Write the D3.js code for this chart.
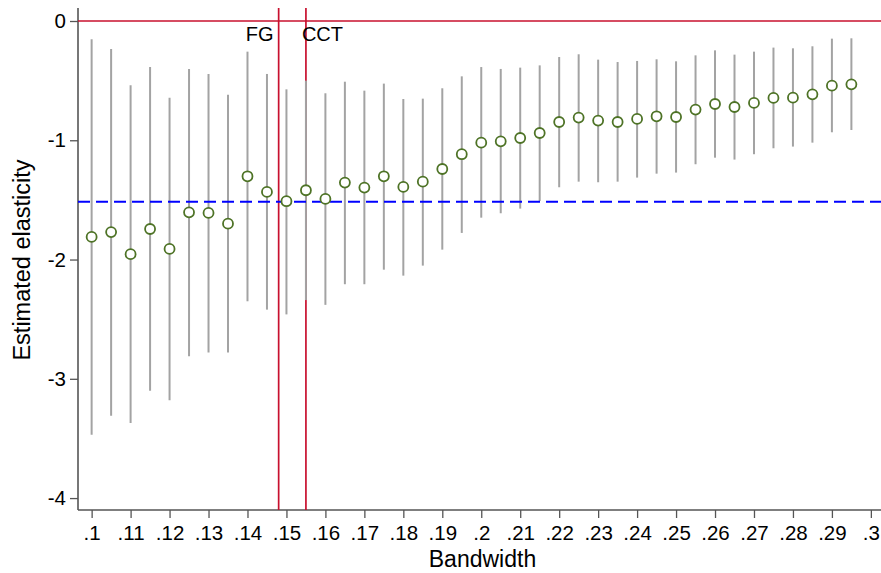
<!DOCTYPE html>
<html>
<head>
<meta charset="utf-8">
<script src="https://cdn.jsdelivr.net/npm/d3@7"></script>
<style>
  html, body { margin: 0; padding: 0; background: #fff; }
  text { font-family: "Liberation Sans", Arial, sans-serif; fill: #000; }
</style>
</head>
<body>
<div id="chart"></div>
<script>
// bandwidths and RD estimates with their 95% CIs
var bandwidth = [.1, .105, .11, .115, .12, .125, .13, .135, .14, .145,
                 .15, .155, .16, .165, .17, .175, .18, .185, .19, .195,
                 .2, .205, .21, .215, .22, .225, .23, .235, .24, .245,
                 .25, .255, .26, .265, .27, .275, .28, .285, .29, .295];
var estimate = [-1.81, -1.77, -1.955, -1.744, -1.911, -1.604, -1.609, -1.699, -1.302, -1.433,
                -1.511, -1.419, -1.492, -1.355, -1.397, -1.302, -1.391, -1.347, -1.241, -1.117,
                -1.02, -1.009, -0.981, -0.939, -0.847, -0.81, -0.835, -0.847, -0.821, -0.799,
                -0.805, -0.743, -0.696, -0.721, -0.687, -0.645, -0.643, -0.615, -0.542, -0.531];
var ciLow = [-3.47, -3.31, -3.37, -3.10, -3.18, -2.81, -2.78, -2.78, -2.35, -2.42,
             -2.46, -2.34, -2.38, -2.207, -2.207, -2.085, -2.135, -2.051, -1.917, -1.777,
             -1.649, -1.612, -1.573, -1.509, -1.394, -1.347, -1.352, -1.347, -1.313, -1.28,
             -1.271, -1.201, -1.146, -1.162, -1.117, -1.067, -1.053, -1.02, -0.933, -0.914];
var ciHigh = [-0.153, -0.235, -0.539, -0.386, -0.643, -0.402, -0.444, -0.618, -0.257, -0.444,
              -0.573, -0.5, -0.606, -0.509, -0.584, -0.525, -0.654, -0.651, -0.564, -0.464,
              -0.386, -0.402, -0.391, -0.372, -0.302, -0.279, -0.324, -0.344, -0.335, -0.321,
              -0.338, -0.288, -0.246, -0.282, -0.257, -0.223, -0.229, -0.212, -0.148, -0.145];

var xTicks = [.1, .11, .12, .13, .14, .15, .16, .17, .18, .19, .2,
              .21, .22, .23, .24, .25, .26, .27, .28, .29, .3];
var yTicks = [0, -1, -2, -3, -4];

// reference lines
var fgBandwidth = 0.148;
var cctBandwidth = 0.155;
var pooledElasticity = -1.515;

var width = 881, height = 573;
var margin = {top: 8, right: 0, bottom: 63, left: 78};

var x = d3.scaleLinear().domain([0.0965, 0.3026]).range([margin.left, width - margin.right]);
var y = d3.scaleLinear().domain([-4.1, 0.109]).range([height - margin.bottom, margin.top]);

var svg = d3.select("#chart").append("svg")
  .attr("width", width).attr("height", height);

var fmt = function(d) { return d === 0 ? "0" : String(d).replace(/^0\./, "."); };

// axes
var xAxis = svg.append("g")
  .attr("transform", "translate(0," + y.range()[0] + ")")
  .call(d3.axisBottom(x).tickValues(xTicks).tickFormat(fmt).tickSize(8).tickPadding(7));
var yAxis = svg.append("g")
  .attr("transform", "translate(" + margin.left + ",0)")
  .call(d3.axisLeft(y).tickValues(yTicks).tickFormat(fmt).tickSize(8).tickPadding(4));

[xAxis, yAxis].forEach(function(a) {
  a.select(".domain").attr("stroke", "#555").attr("stroke-width", 1.6);
  a.selectAll(".tick line").attr("stroke", "#555").attr("stroke-width", 1.3);
  a.selectAll(".tick text").style("font-size", "20.5px").attr("fill", "#000");
});
xAxis.select(".domain").attr("d", "M" + margin.left + ",0H" + width);
yAxis.select(".domain").attr("d", "M0," + y.range()[1] + "V" + y.range()[0]);

// axis titles
svg.append("text")
  .attr("x", (margin.left + width) / 2 + 3).attr("y", 567)
  .attr("text-anchor", "middle").style("font-size", "23px")
  .text("Bandwidth");
svg.append("text")
  .attr("transform", "translate(29.5,260) rotate(-90)")
  .attr("text-anchor", "middle").style("font-size", "23.5px")
  .text("Estimated elasticity");

var red = "#c8102e";

// zero line and bandwidth selectors
svg.append("line")
  .attr("x1", margin.left).attr("x2", width)
  .attr("y1", y(0)).attr("y2", y(0))
  .attr("stroke", red).attr("stroke-width", 1.7);
[fgBandwidth, cctBandwidth].forEach(function(b) {
  svg.append("line")
    .attr("x1", x(b)).attr("x2", x(b))
    .attr("y1", y.range()[1]).attr("y2", y.range()[0])
    .attr("stroke", red).attr("stroke-width", 1.7);
});
svg.append("text")
  .attr("x", x(fgBandwidth) - 5).attr("y", 41)
  .attr("text-anchor", "end").style("font-size", "20px")
  .text("FG");
svg.append("text")
  .attr("x", x(cctBandwidth) - 4).attr("y", 41)
  .attr("text-anchor", "start").style("font-size", "20px")
  .text("CCT");

// confidence intervals
svg.append("g").selectAll("line")
  .data(d3.range(bandwidth.length))
  .join("line")
  .attr("x1", function(i) { return x(bandwidth[i]); })
  .attr("x2", function(i) { return x(bandwidth[i]); })
  .attr("y1", function(i) { return y(ciLow[i]); })
  .attr("y2", function(i) { return y(ciHigh[i]); })
  .attr("stroke", "#a3a3a3").attr("stroke-width", 2);

// pooled estimate
svg.append("line")
  .attr("x1", margin.left).attr("x2", width)
  .attr("y1", y(pooledElasticity)).attr("y2", y(pooledElasticity))
  .attr("stroke", "#0000ff").attr("stroke-width", 2)
  .attr("stroke-dasharray", "12,6");

// point estimates
svg.append("g").selectAll("circle")
  .data(d3.range(bandwidth.length))
  .join("circle")
  .attr("cx", function(i) { return x(bandwidth[i]); })
  .attr("cy", function(i) { return y(estimate[i]); })
  .attr("r", 5)
  .attr("fill", "#fff")
  .attr("stroke", "#4e7326").attr("stroke-width", 1.8);
</script>
</body>
</html>
